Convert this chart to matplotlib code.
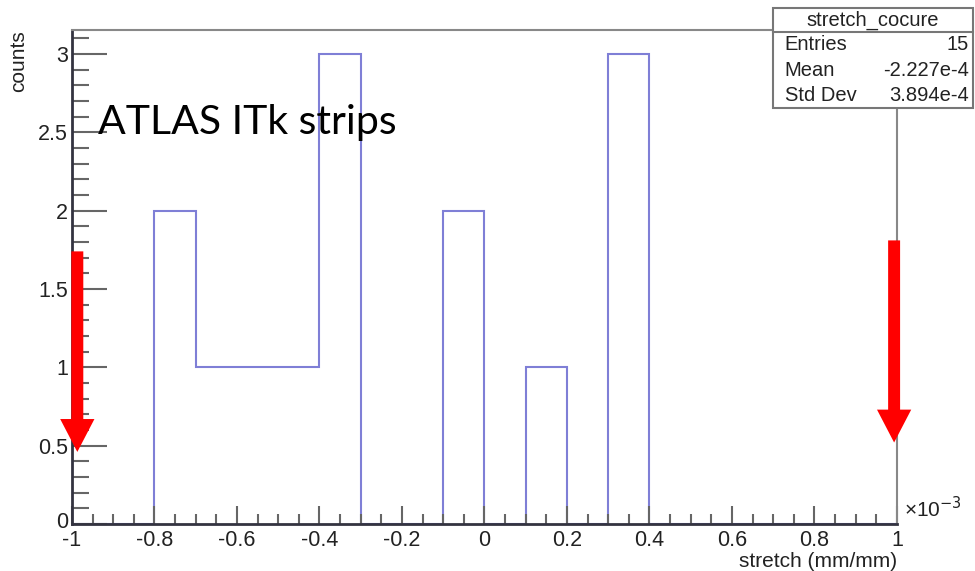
import numpy as np
import matplotlib
matplotlib.use("Agg")
import matplotlib.pyplot as plt
import matplotlib.transforms as mtransforms
from matplotlib.patches import FancyArrow, Rectangle
from matplotlib.ticker import MultipleLocator

# histogram of stretch (x 1e-3), 20 bins from -1 to 1
bin_edges = np.linspace(-1, 1, 21)
counts = [0, 0, 2, 1, 1, 1, 3, 0, 0, 2, 0, 1, 0, 3, 0, 0, 0, 0, 0, 0]

hist_name = "stretch_cocure"
stat_labels = ["Entries", "Mean", "Std Dev"]
stat_values = ["15", "-2.227e-4", "3.894e-4"]

# red arrows: (x, y_start, y_tip)
arrows = [(-0.987, 1.74, 0.46), (0.993, 1.81, 0.52)]

plt.rcParams['font.family'] = ['Liberation Sans', 'DejaVu Sans']

fig = plt.figure(figsize=(9.75, 5.71), dpi=100)
ax = fig.add_axes([0.0738, 0.0823, 0.8462, 0.8652])

ax.stairs(counts, bin_edges, color='#7f7fd6', lw=1.5)

ax.set_xlim(-1, 1)
ax.set_ylim(0, 3.153)

ax.xaxis.set_minor_locator(MultipleLocator(0.05))
ax.yaxis.set_minor_locator(MultipleLocator(0.1))
ax.set_yticks([0, 0.5, 1, 1.5, 2, 2.5, 3])
ax.set_yticklabels(["0", "0.5", "1", "1.5", "2", "2.5", "3"])
ax.set_xticks(np.round(np.arange(-1, 1.01, 0.2), 1))
ax.set_xticklabels(["-1", "-0.8", "-0.6", "-0.4", "-0.2", "0",
                    "0.2", "0.4", "0.6", "0.8", "1"])

ax.tick_params(axis='x', which='major', direction='in', length=13, width=1.5,
               color='#666666', labelsize=15.5, pad=4, top=False, labelcolor='#222222')
ax.tick_params(axis='x', which='minor', direction='in', length=7, width=1.5,
               color='#666666', top=False)
ax.tick_params(axis='y', which='major', direction='in', length=25, width=1.5,
               color='#666666', labelsize=15.5, pad=3, right=False, labelcolor='#222222')
ax.tick_params(axis='y', which='minor', direction='in', length=12, width=1.5,
               color='#666666', right=False)

# nudge the "0" label up a little so it clears the "-1" below
lab0 = ax.get_yticklabels()[0]
lab0.set_transform(lab0.get_transform() + mtransforms.ScaledTranslation(0, 3 / 72, fig.dpi_scale_trans))

for s in ['left', 'bottom']:
    ax.spines[s].set_color('#333340')
    ax.spines[s].set_linewidth(2)
for s in ['top', 'right']:
    ax.spines[s].set_color('#888888')
    ax.spines[s].set_linewidth(1.5)

fig.text(0.019, 0.947, "counts", rotation=90, ha='center', va='top', fontsize=15, color='#222222')
fig.text(0.92, 0.0, "stretch (mm/mm)", ha='right', va='bottom', fontsize=15, color='#222222')
fig.text(0.927, 0.088, r"×10$^{-3}$", ha='left', va='bottom', fontsize=15, color='#222222')

ax.text(0.032, 0.79, "ATLAS ITk strips", transform=ax.transAxes, fontsize=29.5,
        family=['Lato', 'DejaVu Sans'], ha='left', va='baseline', color='black')

for x, y0, y1 in arrows:
    ax.add_patch(FancyArrow(x, y0, 0, y1 - y0, width=0.029, head_width=0.083,
                            head_length=0.21, length_includes_head=True,
                            color='#ff0000', lw=0, clip_on=False, zorder=5))

# stats box
bx0, bx1 = 773 / 975, 973 / 975
by_top, by_bot = 1 - 8 / 571, 1 - 108 / 571
title_bot = 1 - 32 / 571
box = Rectangle((bx0, by_bot), bx1 - bx0, by_top - by_bot, transform=fig.transFigure,
                facecolor='white', edgecolor='#777777', lw=1.5, zorder=10)
fig.patches.append(box)
fig.lines.append(plt.Line2D([bx0, bx1], [title_bot, title_bot], transform=fig.transFigure,
                            color='#777777', lw=1.5, zorder=11))
fig.text((bx0 + bx1) / 2, (by_top + title_bot) / 2, hist_name, ha='center', va='center',
         fontsize=14.5, color='#222222', zorder=12)
row_h = (title_bot - by_bot) / 3
for i, (lab, val) in enumerate(zip(stat_labels, stat_values)):
    yc = title_bot - row_h * (i + 0.5)
    fig.text(bx0 + 0.012, yc, lab, ha='left', va='center', fontsize=14.5, color='#222222', zorder=12)
    fig.text(bx1 - 0.004, yc, val, ha='right', va='center', fontsize=14.5, color='#222222', zorder=12)

fig.savefig("out.png", dpi=100)
